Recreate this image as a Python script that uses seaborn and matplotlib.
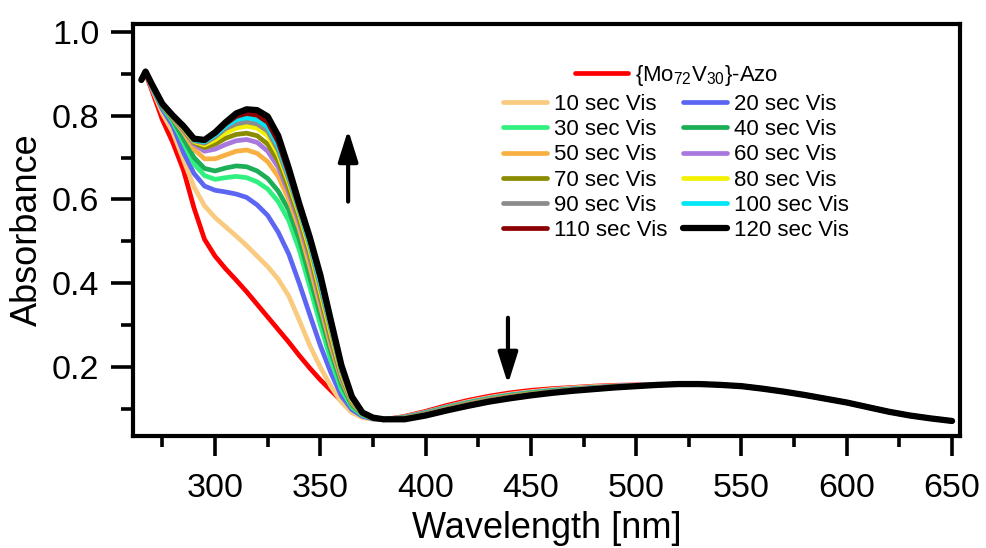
import numpy as np
import pandas as pd
import matplotlib
matplotlib.use("Agg")
import matplotlib.pyplot as plt
import seaborn as sns
from matplotlib.lines import Line2D

# ---- wavelength grids (nm) ----
wl_uv = [265, 267, 270, 275, 280, 285, 290, 295, 300, 305, 310, 315, 320,
         325, 330, 335, 340, 345, 350, 355, 360, 365, 370, 375, 380,
         390, 400, 410, 420, 430, 440, 450, 460, 470, 480, 490, 500]
wl_vis = [510, 520, 530, 540, 550, 560, 570, 580, 590, 600, 610, 620, 630, 640, 650]

# common visible band (all spectra coincide here)
band_tail = [0.158, 0.160, 0.160, 0.158, 0.155, 0.149, 0.142, 0.134, 0.125,
             0.116, 0.105, 0.094, 0.085, 0.078, 0.072]

# ---- absorbance per irradiation time ----
abs_0 = [0.885, 0.900, 0.860, 0.790, 0.735, 0.670, 0.580, 0.505, 0.465, 0.435, 0.408, 0.380, 0.350,
         0.320, 0.290, 0.260, 0.228, 0.198, 0.170, 0.145, 0.120, 0.098, 0.083, 0.077, 0.075,
         0.083, 0.095, 0.109, 0.121, 0.131, 0.139, 0.145, 0.149, 0.152, 0.155, 0.157, 0.158]
abs_10 = [0.885, 0.902, 0.865, 0.805, 0.760, 0.695, 0.630, 0.585, 0.557, 0.535, 0.513, 0.490, 0.465,
          0.440, 0.410, 0.370, 0.312, 0.252, 0.200, 0.155, 0.117, 0.092, 0.080, 0.076, 0.075,
          0.082, 0.093, 0.106, 0.118, 0.128, 0.136, 0.142, 0.147, 0.151, 0.154, 0.156, 0.157]
abs_20 = [0.885, 0.903, 0.868, 0.815, 0.775, 0.712, 0.662, 0.632, 0.622, 0.618, 0.613, 0.605, 0.587,
          0.562, 0.522, 0.470, 0.400, 0.325, 0.252, 0.187, 0.132, 0.099, 0.083, 0.077, 0.075,
          0.081, 0.092, 0.105, 0.116, 0.126, 0.134, 0.140, 0.145, 0.149, 0.152, 0.155, 0.157]
abs_30 = [0.885, 0.903, 0.870, 0.820, 0.785, 0.735, 0.685, 0.657, 0.648, 0.652, 0.655, 0.652, 0.642,
          0.625, 0.595, 0.550, 0.480, 0.392, 0.302, 0.217, 0.147, 0.105, 0.086, 0.078, 0.075,
          0.080, 0.091, 0.104, 0.115, 0.125, 0.133, 0.139, 0.144, 0.148, 0.151, 0.154, 0.156]
abs_40 = [0.885, 0.903, 0.872, 0.822, 0.790, 0.745, 0.700, 0.674, 0.668, 0.675, 0.680, 0.678, 0.668,
          0.650, 0.620, 0.575, 0.505, 0.415, 0.325, 0.237, 0.160, 0.110, 0.088, 0.079, 0.075,
          0.080, 0.090, 0.103, 0.114, 0.124, 0.132, 0.138, 0.143, 0.147, 0.151, 0.154, 0.156]
abs_50 = [0.885, 0.904, 0.873, 0.824, 0.793, 0.760, 0.720, 0.697, 0.697, 0.706, 0.715, 0.718, 0.710,
          0.690, 0.655, 0.600, 0.530, 0.440, 0.345, 0.250, 0.170, 0.115, 0.089, 0.079, 0.075,
          0.079, 0.089, 0.102, 0.113, 0.123, 0.131, 0.137, 0.142, 0.147, 0.150, 0.154, 0.156]
abs_60 = [0.885, 0.904, 0.874, 0.825, 0.795, 0.765, 0.732, 0.715, 0.720, 0.731, 0.740, 0.743, 0.736,
          0.715, 0.677, 0.617, 0.545, 0.460, 0.360, 0.262, 0.175, 0.118, 0.090, 0.079, 0.075,
          0.079, 0.089, 0.101, 0.112, 0.122, 0.130, 0.136, 0.142, 0.146, 0.150, 0.153, 0.156]
abs_70 = [0.885, 0.904, 0.874, 0.826, 0.796, 0.768, 0.736, 0.724, 0.732, 0.746, 0.755, 0.758, 0.752,
          0.732, 0.692, 0.627, 0.555, 0.470, 0.370, 0.270, 0.180, 0.120, 0.090, 0.079, 0.075,
          0.078, 0.088, 0.100, 0.111, 0.121, 0.129, 0.136, 0.141, 0.146, 0.149, 0.153, 0.155]
abs_80 = [0.885, 0.905, 0.875, 0.827, 0.797, 0.770, 0.738, 0.730, 0.742, 0.759, 0.770, 0.775, 0.770,
          0.752, 0.707, 0.640, 0.565, 0.480, 0.380, 0.280, 0.185, 0.122, 0.091, 0.080, 0.076,
          0.078, 0.087, 0.099, 0.110, 0.120, 0.128, 0.135, 0.140, 0.145, 0.149, 0.153, 0.155]
abs_90 = [0.885, 0.905, 0.875, 0.827, 0.798, 0.772, 0.740, 0.734, 0.749, 0.769, 0.780, 0.785, 0.780,
          0.763, 0.717, 0.648, 0.572, 0.490, 0.390, 0.290, 0.190, 0.125, 0.091, 0.080, 0.076,
          0.077, 0.087, 0.099, 0.110, 0.120, 0.128, 0.135, 0.140, 0.145, 0.149, 0.152, 0.155]
abs_100 = [0.885, 0.905, 0.875, 0.828, 0.799, 0.773, 0.742, 0.738, 0.753, 0.775, 0.790, 0.795, 0.790,
           0.773, 0.727, 0.655, 0.575, 0.495, 0.400, 0.300, 0.198, 0.127, 0.092, 0.080, 0.076,
           0.077, 0.086, 0.098, 0.109, 0.119, 0.127, 0.134, 0.140, 0.145, 0.148, 0.152, 0.155]
abs_110 = [0.885, 0.905, 0.875, 0.828, 0.800, 0.774, 0.744, 0.741, 0.757, 0.780, 0.798, 0.805, 0.801,
           0.784, 0.737, 0.662, 0.580, 0.503, 0.410, 0.305, 0.202, 0.128, 0.092, 0.080, 0.076,
           0.076, 0.086, 0.098, 0.109, 0.119, 0.127, 0.134, 0.139, 0.144, 0.148, 0.152, 0.155]
abs_120 = [0.885, 0.905, 0.875, 0.828, 0.800, 0.775, 0.745, 0.742, 0.760, 0.784, 0.805, 0.815, 0.813,
           0.798, 0.752, 0.675, 0.590, 0.510, 0.420, 0.312, 0.205, 0.130, 0.092, 0.080, 0.076,
           0.076, 0.085, 0.097, 0.108, 0.118, 0.126, 0.133, 0.139, 0.144, 0.148, 0.152, 0.155]

series_labels = ["{Mo$_{72}$V$_{30}$}-Azo", "10 sec Vis", "20 sec Vis", "30 sec Vis",
                 "40 sec Vis", "50 sec Vis", "60 sec Vis", "70 sec Vis", "80 sec Vis",
                 "90 sec Vis", "100 sec Vis", "110 sec Vis", "120 sec Vis"]
series_values = [abs_0, abs_10, abs_20, abs_30, abs_40, abs_50, abs_60,
                 abs_70, abs_80, abs_90, abs_100, abs_110, abs_120]
series_colors = ["#FF0000", "#F9CB80", "#5C66F2", "#30F080", "#1BAE57", "#F9B042",
                 "#A878DE", "#8B8B00", "#F2F200", "#8C8C8C", "#00E6F6", "#8B0000", "#000000"]

# ---- style ----
sns.set_theme(style="ticks")
plt.rcParams["font.family"] = ["Liberation Sans", "DejaVu Sans"]
plt.rcParams["mathtext.fontset"] = "custom"
plt.rcParams["mathtext.rm"] = "Liberation Sans"
plt.rcParams["mathtext.it"] = "Liberation Sans:italic"
for key in ["text.color", "axes.labelcolor", "xtick.color", "ytick.color",
            "xtick.labelcolor", "ytick.labelcolor", "axes.edgecolor"]:
    plt.rcParams[key] = "black"

fig = plt.figure(figsize=(9.87, 5.48), dpi=100)
ax = fig.add_axes([0.1352, 0.2044, 0.8370, 0.7527])

frames = []
for lab, vals in zip(series_labels, series_values):
    frames.append(pd.DataFrame({
        "wavelength": wl_uv + wl_vis,
        "absorbance": vals + band_tail,
        "series": lab,
    }))
df = pd.concat(frames, ignore_index=True)

LW, LW_BLACK = 3.4, 4.5
for lab, col in zip(series_labels, series_colors):
    sub = df[df["series"] == lab]
    lw = LW_BLACK if col == "#000000" else LW
    sns.lineplot(data=sub, x="wavelength", y="absorbance", ax=ax, color=col,
                 lw=lw, sort=False, estimator=None, legend=False,
                 solid_joinstyle="round", solid_capstyle="round")

ax.set_xlim(261.25, 653.56)
ax.set_ylim(0.0362, 1.0195)
ax.set_xticks(np.arange(300, 651, 50))
ax.set_xticks(np.arange(275, 651, 50), minor=True)
ax.set_yticks([0.2, 0.4, 0.6, 0.8, 1.0])
ax.set_yticks([0.1, 0.3, 0.5, 0.7, 0.9], minor=True)
ax.set_yticklabels(["0.2", "0.4", "0.6", "0.8", "1.0"])

for sp in ax.spines.values():
    sp.set_linewidth(3.0)
    sp.set_color("black")
    sp.set_visible(True)

ax.tick_params(axis="x", which="major", direction="out", length=14.5, width=2.6,
               labelsize=24.5, pad=12.5, color="black", labelcolor="black")
ax.tick_params(axis="x", which="minor", direction="out", length=8, width=2.6, color="black")
ax.tick_params(axis="y", which="major", direction="out", length=15.6, width=2.6,
               labelsize=24.5, pad=9, color="black", labelcolor="black")
ax.tick_params(axis="y", which="minor", direction="out", length=9, width=2.6, color="black")
ax.tick_params(top=False, right=False, which="both")

ax.set_xlabel("Wavelength [nm]", fontsize=26, labelpad=5, color="black")
ax.set_ylabel("Absorbance", fontsize=26, labelpad=5, color="black")
ax.grid(False)

# arrows marking spectral change
arrow_kw = dict(arrowstyle="-|>,head_length=19,head_width=6", mutation_scale=1,
                lw=3.0, color="black", shrinkA=0, shrinkB=0)
ax.annotate("", xy=(363.2, 0.766), xytext=(363.2, 0.595), arrowprops=arrow_kw)
ax.annotate("", xy=(439.1, 0.160), xytext=(439.1, 0.318), arrowprops=arrow_kw)

# legends
handles = [Line2D([0], [0], color=c, lw=(LW_BLACK if c == "#000000" else LW))
           for c in series_colors]
leg1 = ax.legend([handles[0]], [series_labels[0]], loc="upper left",
                 bbox_to_anchor=(575 / 987, 1 - 63 / 548), bbox_transform=fig.transFigure,
                 frameon=False, fontsize=16, handlelength=2.4, handletextpad=0.3,
                 borderpad=0, borderaxespad=0, labelcolor="black")
ax.add_artist(leg1)
order = [1, 3, 5, 7, 9, 11, 2, 4, 6, 8, 10, 12]
ax.legend([handles[i] for i in order], [series_labels[i] for i in order],
          loc="upper left", ncol=2, bbox_to_anchor=(503 / 987, 1 - 94 / 548),
          bbox_transform=fig.transFigure, frameon=False, fontsize=16,
          handlelength=2.0, handletextpad=0.3, labelspacing=0.19, columnspacing=0.7,
          borderpad=0, borderaxespad=0, labelcolor="black")

fig.savefig("out.png", dpi=100)
